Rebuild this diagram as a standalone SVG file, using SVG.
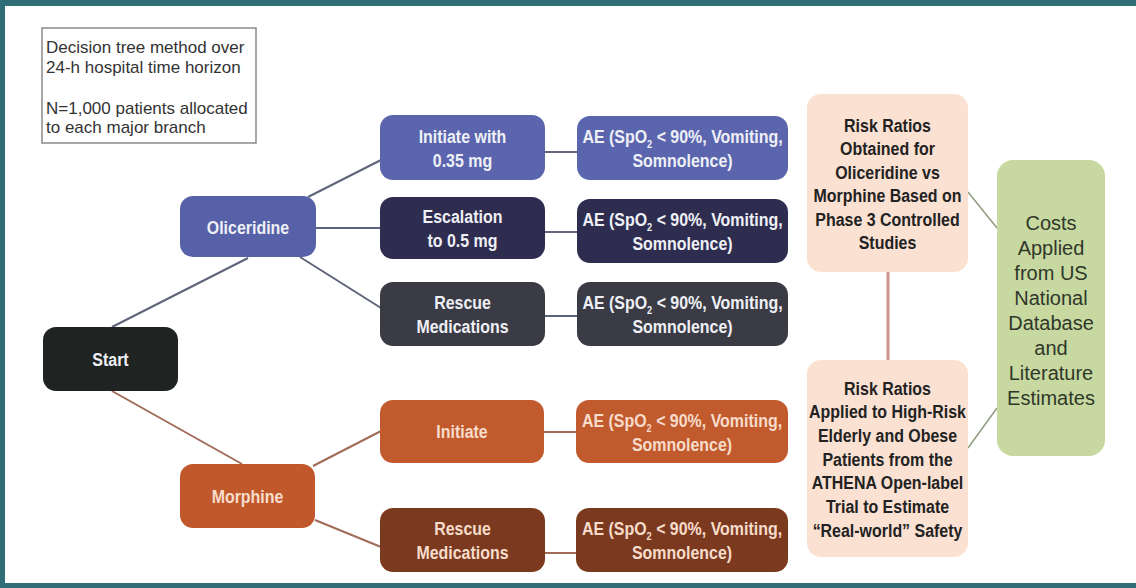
<svg xmlns="http://www.w3.org/2000/svg" width="1136" height="588" viewBox="0 0 1136 588">
  <style>
    .lbl { font-family: "Liberation Sans", Arial, sans-serif; font-weight: bold; font-size: 19px; text-anchor: middle; }
    .light { fill: #eef0f6; }
    .peach { fill: #f7dccb; }
    .dark { fill: #222222; }
    .info { font-family: "Liberation Sans", Arial, sans-serif; font-size: 17px; fill: #333333; }
    .cost { font-family: "Liberation Sans", Arial, sans-serif; font-size: 20px; fill: #30372a; text-anchor: middle; }
    .sub { font-size: 11px; }
    .c-blue { stroke: #5e6479; stroke-width: 2; fill: none; }
    .c-brown { stroke: #a06c58; stroke-width: 2; fill: none; }
    .c-pink { stroke: #c9958e; stroke-width: 3; fill: none; }
    .c-green { stroke: #8e9c80; stroke-width: 1.5; fill: none; }
  </style>
  <defs>
    <!-- two-line adverse-event label, drawn condensed -->
    <g id="ae-text">
      <text transform="translate(0 -5) scale(0.84 1)">AE (SpO<tspan class="sub" dy="5">2</tspan><tspan dy="-5"> &lt; 90%, Vomiting,</tspan></text>
      <text transform="translate(0 19) scale(0.84 1)">Somnolence)</text>
    </g>
  </defs>

  <!-- page frame -->
  <rect x="0" y="0" width="1136" height="588" fill="#ffffff"/>
  <rect x="0" y="0" width="1136" height="6" fill="#2f6e77"/>
  <rect x="0" y="0" width="5" height="588" fill="#2f6e77"/>
  <rect x="0" y="583" width="1136" height="5" fill="#2f6e77"/>

  <!-- connectors -->
  <g id="connectors">
    <line class="c-blue" x1="112" y1="327" x2="248" y2="258"/>
    <line class="c-brown" x1="112" y1="391" x2="242" y2="464"/>
    <line class="c-blue" x1="308" y1="197" x2="381" y2="160"/>
    <line class="c-blue" x1="316" y1="228" x2="381" y2="228"/>
    <line class="c-blue" x1="300" y1="257" x2="381" y2="308"/>
    <line class="c-brown" x1="313" y1="466" x2="381" y2="431"/>
    <line class="c-brown" x1="315" y1="520" x2="381" y2="547"/>
    <line class="c-blue" x1="545" y1="152" x2="577" y2="152"/>
    <line class="c-blue" x1="545" y1="232" x2="577" y2="232"/>
    <line class="c-blue" x1="545" y1="316" x2="577" y2="316"/>
    <line class="c-brown" x1="544" y1="432" x2="576" y2="432"/>
    <line class="c-brown" x1="545" y1="553" x2="576" y2="553"/>
    <line class="c-pink" x1="888" y1="272" x2="888" y2="360"/>
    <line class="c-green" x1="968" y1="192" x2="997" y2="228"/>
    <line class="c-green" x1="968" y1="448" x2="997" y2="408"/>
  </g>

  <!-- model description -->
  <g id="note">
    <rect x="42" y="28" width="214" height="115" fill="#ffffff" stroke="#8a8a8a" stroke-width="1.5"/>
    <text class="info" x="46" y="53">Decision tree method over</text>
    <text class="info" x="46" y="73">24-h hospital time horizon</text>
    <text class="info" x="46" y="114">N=1,000 patients allocated</text>
    <text class="info" x="46" y="133">to each major branch</text>
  </g>

  <g id="start">
    <rect x="43" y="327" width="135" height="64" rx="13" fill="#1f2321"/>
    <text class="lbl light" transform="translate(110.5 366) scale(0.84 1)">Start</text>
  </g>

  <g id="oliceridine">
    <rect x="180" y="196" width="136" height="61" rx="13" fill="#5761a8"/>
    <text class="lbl light" transform="translate(248 234) scale(0.84 1)">Oliceridine</text>
  </g>

  <g id="morphine">
    <rect x="180" y="464" width="135" height="64" rx="13" fill="#c0582b"/>
    <text class="lbl peach" transform="translate(247.5 503) scale(0.84 1)">Morphine</text>
  </g>

  <g id="oli-initiate">
    <rect x="380" y="115" width="165" height="65" rx="13" fill="#5a65ae"/>
    <text class="lbl light" transform="translate(462.5 143) scale(0.84 1)">Initiate with</text>
    <text class="lbl light" transform="translate(462.5 167) scale(0.84 1)">0.35 mg</text>
  </g>

  <g id="oli-escalation">
    <rect x="380" y="197" width="165" height="62" rx="13" fill="#2e2d50"/>
    <text class="lbl light" transform="translate(462.5 223) scale(0.84 1)">Escalation</text>
    <text class="lbl light" transform="translate(462.5 247) scale(0.84 1)">to 0.5 mg</text>
  </g>

  <g id="oli-rescue">
    <rect x="380" y="282" width="165" height="64" rx="13" fill="#3b3b45"/>
    <text class="lbl light" transform="translate(462.5 309) scale(0.84 1)">Rescue</text>
    <text class="lbl light" transform="translate(462.5 333) scale(0.84 1)">Medications</text>
  </g>

  <g id="mor-initiate">
    <rect x="380" y="400" width="164" height="63" rx="13" fill="#c15a2c"/>
    <text class="lbl peach" transform="translate(462 438) scale(0.84 1)">Initiate</text>
  </g>

  <g id="mor-rescue">
    <rect x="380" y="508" width="165" height="64" rx="13" fill="#7b3a1f"/>
    <text class="lbl peach" transform="translate(462.5 535) scale(0.84 1)">Rescue</text>
    <text class="lbl peach" transform="translate(462.5 559) scale(0.84 1)">Medications</text>
  </g>

  <g id="ae-oli-initiate">
    <rect x="577" y="116" width="211" height="64" rx="13" fill="#5a65ae"/>
    <use href="#ae-text" class="lbl light" transform="translate(682.5 148)"/>
  </g>

  <g id="ae-oli-escalation">
    <rect x="577" y="199" width="211" height="64" rx="13" fill="#2e2d50"/>
    <use href="#ae-text" class="lbl light" transform="translate(682.5 231)"/>
  </g>

  <g id="ae-oli-rescue">
    <rect x="577" y="282" width="211" height="64" rx="13" fill="#3b3b45"/>
    <use href="#ae-text" class="lbl light" transform="translate(682.5 314)"/>
  </g>

  <g id="ae-mor-initiate">
    <rect x="576" y="400" width="212" height="63" rx="13" fill="#c15a2c"/>
    <use href="#ae-text" class="lbl peach" transform="translate(682 432)"/>
  </g>

  <g id="ae-mor-rescue">
    <rect x="576" y="508" width="212" height="64" rx="13" fill="#7b3a1f"/>
    <use href="#ae-text" class="lbl peach" transform="translate(682 540)"/>
  </g>

  <g id="risk-controlled">
    <rect x="807" y="94" width="161" height="178" rx="14" fill="#fbe1d2"/>
    <text class="lbl dark" transform="translate(887.5 131.5) scale(0.84 1)">Risk Ratios</text>
    <text class="lbl dark" transform="translate(887.5 155) scale(0.84 1)">Obtained for</text>
    <text class="lbl dark" transform="translate(887.5 178.5) scale(0.84 1)">Oliceridine vs</text>
    <text class="lbl dark" transform="translate(887.5 202) scale(0.84 1)">Morphine Based on</text>
    <text class="lbl dark" transform="translate(887.5 225.5) scale(0.84 1)">Phase 3 Controlled</text>
    <text class="lbl dark" transform="translate(887.5 249) scale(0.84 1)">Studies</text>
  </g>

  <g id="risk-athena">
    <rect x="807" y="360" width="161" height="197" rx="14" fill="#fbe1d2"/>
    <text class="lbl dark" transform="translate(887.5 394.5) scale(0.84 1)">Risk Ratios</text>
    <text class="lbl dark" transform="translate(887.5 418.2) scale(0.84 1)">Applied to High-Risk</text>
    <text class="lbl dark" transform="translate(887.5 441.9) scale(0.84 1)">Elderly and Obese</text>
    <text class="lbl dark" transform="translate(887.5 465.6) scale(0.84 1)">Patients from the</text>
    <text class="lbl dark" transform="translate(887.5 489.3) scale(0.84 1)">ATHENA Open-label</text>
    <text class="lbl dark" transform="translate(887.5 513) scale(0.84 1)">Trial to Estimate</text>
    <text class="lbl dark" transform="translate(887.5 536.7) scale(0.84 1)">“Real-world” Safety</text>
  </g>

  <g id="costs">
    <rect x="997" y="160" width="108" height="296" rx="16" fill="#c7d9a0"/>
    <text class="cost" x="1051" y="229.5">Costs</text>
    <text class="cost" x="1051" y="254.5">Applied</text>
    <text class="cost" x="1051" y="279.5">from US</text>
    <text class="cost" x="1051" y="304.5">National</text>
    <text class="cost" x="1051" y="329.5">Database</text>
    <text class="cost" x="1051" y="354.5">and</text>
    <text class="cost" x="1051" y="379.5">Literature</text>
    <text class="cost" x="1051" y="404.5">Estimates</text>
  </g>
</svg>
